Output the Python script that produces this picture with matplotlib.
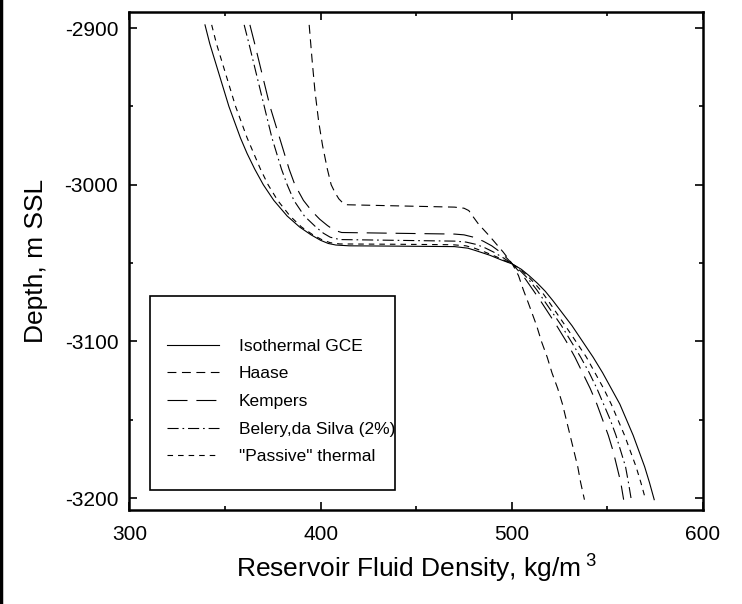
import matplotlib
matplotlib.use('Agg')
import matplotlib.pyplot as plt
from matplotlib.patches import Rectangle
from matplotlib.lines import Line2D

plt.rcParams['font.family'] = ['Liberation Sans', 'DejaVu Sans']
plt.rcParams['mathtext.fontset'] = 'custom'
plt.rcParams['mathtext.rm'] = 'Liberation Sans'
plt.rcParams['mathtext.it'] = 'Liberation Sans'
plt.rcParams['axes.unicode_minus'] = False

iso_depth = [-2898, -2910, -2920, -2930, -2940, -2950, -2960, -2970, -2980, -2990, -3000,
             -3010, -3020, -3027, -3032, -3035.5, -3037.5, -3038.5, -3039, -3039.2, -3039.5,
             -3040.5, -3042, -3045, -3048, -3050.6, -3054, -3058, -3063, -3068, -3074,
             -3082, -3090, -3100, -3110, -3120, -3130, -3140, -3150, -3160, -3170, -3180,
             -3190, -3201]
iso_rho = [339.5, 342, 344.5, 347, 349.5, 352, 355, 358, 361.5, 365.5, 370,
           375.5, 382.5, 389, 395, 400, 404, 408, 415, 440, 470,
           477, 481, 488.5, 494.5, 500.3, 505, 509, 513.5, 517.5, 521.5,
           526.5, 531.5, 537, 542.5, 547.5, 552, 556.5, 560, 563.5, 566.5, 569.5,
           572, 574.5]

pas_depth = [-2898, -2910, -2920, -2930, -2940, -2950, -2960, -2970, -2980, -2990, -3000,
             -3010, -3020, -3027, -3032, -3035, -3037, -3037.8, -3038, -3038.3,
             -3039, -3040.5, -3043, -3046, -3050.6, -3054, -3058, -3063, -3068, -3074,
             -3082, -3090, -3100, -3110, -3120, -3130, -3140, -3150, -3160, -3170, -3180,
             -3190, -3201]
pas_rho = [343, 345.5, 348, 350.5, 353, 355.5, 358.5, 361.5, 365, 368.5, 372.5,
           377.5, 384, 390, 396, 400.5, 405, 410, 440, 469,
           476, 480.5, 486, 492, 500.3, 504.5, 508, 512, 515.5, 519,
           523.5, 528, 533.5, 539, 543.5, 548, 552, 555.5, 559, 562, 565,
           567.5, 570]

bel_depth = [-2898, -2910, -2920, -2930, -2940, -2950, -2960, -2970, -2980, -2990, -3000,
             -3010, -3020, -3027, -3031, -3033.5, -3035, -3035.5, -3036,
             -3036.6, -3038, -3040, -3043, -3047, -3050.6, -3055, -3060, -3067, -3075,
             -3090, -3100, -3110, -3120, -3130, -3140, -3150, -3160, -3170, -3180,
             -3190, -3201]
bel_rho = [360, 362.5, 364.5, 366.5, 368.5, 370.5, 372.5, 374.5, 377, 379.5, 382.5,
           386, 391.5, 397.5, 401.5, 405, 410, 440, 470,
           476, 481, 485.5, 490.5, 496, 500.3, 504.5, 508.5, 513, 517.5,
           526, 531, 536, 540.5, 544.5, 548, 551.5, 554.5, 557, 559.5,
           561, 562.5]

kemp_depth = [-2898, -2910, -2920, -2930, -2940, -2950, -2960, -2970, -2980, -2990, -3000,
              -3010, -3017, -3022, -3026, -3029, -3030.5, -3031, -3031.5,
              -3032, -3033.5, -3036, -3039, -3043, -3047, -3050.6, -3055, -3060, -3067, -3075,
              -3090, -3100, -3110, -3120, -3130, -3140, -3150, -3160, -3170, -3180,
              -3190, -3201]
kemp_rho = [363, 365.5, 367.5, 369.5, 371.5, 373.5, 376, 378.5, 381, 383.5, 386.5,
            391, 395.5, 399.5, 403.5, 407, 411, 440, 470,
            475, 480, 485, 489.5, 494, 497.5, 500.3, 503.5, 507, 511, 515.5,
            523.5, 528.5, 533, 537, 541, 544.5, 547.5, 550.5, 553, 555,
            557, 558.5]

haase_depth = [-2898, -2920, -2940, -2960, -2975, -2990, -3000, -3005, -3009, -3011.5, -3012.8,
               -3013.5, -3014.3, -3015, -3016.5, -3020, -3025, -3033, -3043, -3050.6,
               -3058, -3067, -3075, -3090, -3100, -3110, -3120, -3130, -3140, -3150, -3160,
               -3170, -3180, -3190, -3201]
haase_rho = [394, 395.5, 397, 399, 401, 403.5, 405.5, 407.5, 409.5, 411.5, 414,
             440, 470, 475, 477.5, 479.5, 482.5, 488.5, 495.5, 500.3,
             503.5, 506, 508.5, 513, 515.5, 518.5, 521, 524, 526.5, 528.5, 530.5,
             532.5, 534.5, 536, 538]

fig = plt.figure(figsize=(7.42, 6.04), dpi=100)
ax = fig.add_axes([0.1745, 0.1556, 0.7729, 0.8250])

lw = 0.8
ax.plot(iso_rho, iso_depth, color='black', lw=lw, label='Isothermal GCE')
ax.plot(haase_rho, haase_depth, color='black', lw=lw, dashes=(8, 5), label='Haase')
ax.plot(kemp_rho, kemp_depth, color='black', lw=lw, dashes=(18, 8), label='Kempers')
ax.plot(bel_rho, bel_depth, color='black', lw=lw, dashes=(10, 3.5, 1.5, 3.5), label='Belery,da Silva (2%)')
ax.plot(pas_rho, pas_depth, color='black', lw=lw, dashes=(5, 4.5), label='"Passive" thermal')

ax.set_xlim(300, 600)
ax.set_ylim(-3207.6, -2889.6)
ax.set_xticks([300, 400, 500, 600])
ax.set_xticks([350, 450, 550], minor=True)
ax.set_yticks([-3200, -3100, -3000, -2900])
ax.set_yticks([-3150, -3050, -2950], minor=True)
ax.tick_params(which='both', direction='in', top=True, right=True, labelsize=15, width=1.2)
ax.tick_params(which='major', length=6)
ax.tick_params(which='minor', length=3)
ax.tick_params(axis='x', which='major', pad=11)
ax.tick_params(axis='y', which='major', pad=8)
for s in ax.spines.values():
    s.set_linewidth(1.8)

ax.set_xlabel('Reservoir Fluid Density, kg/m$^{\\ 3}$', fontsize=19, labelpad=6)
ax.set_ylabel('Depth, m SSL', fontsize=19, labelpad=12)

# legend box drawn separately (extra room above the entries)
ax.add_patch(Rectangle((0.036, 0.040), 0.427, 0.389, transform=ax.transAxes,
                       fill=False, edgecolor='black', lw=1.2, zorder=5))
ax.legend(loc='center left', bbox_to_anchor=(0.066, 0.218), frameon=False,
          fontsize=12.5, handlelength=3.0, handletextpad=1.1, labelspacing=0.72,
          borderpad=0, borderaxespad=0)

# thin black line at the left edge of the image
fig.add_artist(Line2D([0.002, 0.002], [0, 1], transform=fig.transFigure, color='black', lw=2.5))

fig.savefig('out.png', dpi=100)
